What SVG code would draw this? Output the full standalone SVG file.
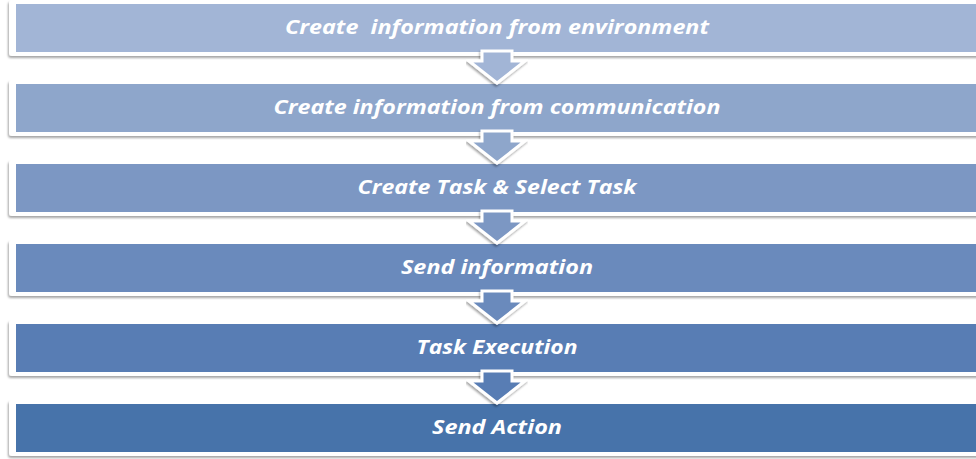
<svg xmlns="http://www.w3.org/2000/svg" width="976" height="459" viewBox="0 0 976 459">
  <style>
    .frame { fill: #ffffff; filter: url(#shadow); }
    .label { font-family: "Open Sans", "Liberation Sans", sans-serif; font-size: 19px; font-weight: bold; font-style: italic; fill: #ffffff; text-anchor: middle; }
    .arrow { stroke: #ffffff; stroke-width: 3; stroke-linejoin: miter; filter: url(#shadow); }
  </style>
  <defs>
    <filter id="shadow" x="-5%" y="-20%" width="110%" height="150%">
      <feDropShadow dx="-1" dy="2" stdDeviation="1.3" flood-color="#000000" flood-opacity="0.35"/>
    </filter>
  </defs>

  <rect width="976" height="459" fill="#ffffff"/>

  <!-- step boxes -->
  <g id="step1">
    <rect class="frame" x="9" y="0" width="980" height="56" rx="3"/>
    <rect x="16" y="4" width="970" height="48" fill="#A2B5D6"/>
    <text class="label" x="497" y="34" textLength="424" lengthAdjust="spacingAndGlyphs" xml:space="preserve">Create  information from environment</text>
  </g>
  <g id="step2">
    <rect class="frame" x="9" y="80" width="980" height="56" rx="3"/>
    <rect x="16" y="84" width="970" height="48" fill="#8EA6CB"/>
    <text class="label" x="497" y="114" textLength="447" lengthAdjust="spacingAndGlyphs">Create information from communication</text>
  </g>
  <g id="step3">
    <rect class="frame" x="9" y="160" width="980" height="56" rx="3"/>
    <rect x="16" y="164" width="970" height="48" fill="#7C97C3"/>
    <text class="label" x="497" y="194" textLength="279" lengthAdjust="spacingAndGlyphs">Create Task &amp; Select Task</text>
  </g>
  <g id="step4">
    <rect class="frame" x="9" y="240" width="980" height="56" rx="3"/>
    <rect x="16" y="244" width="970" height="48" fill="#6A8ABC"/>
    <text class="label" x="497" y="274" textLength="192" lengthAdjust="spacingAndGlyphs">Send information</text>
  </g>
  <g id="step5">
    <rect class="frame" x="9" y="320" width="980" height="56" rx="3"/>
    <rect x="16" y="324" width="970" height="48" fill="#587DB4"/>
    <text class="label" x="497" y="354" textLength="161" lengthAdjust="spacingAndGlyphs">Task Execution</text>
  </g>
  <g id="step6">
    <rect class="frame" x="9" y="400" width="980" height="56" rx="3"/>
    <rect x="16" y="404" width="970" height="48" fill="#4773AA"/>
    <text class="label" x="497" y="434" textLength="130" lengthAdjust="spacingAndGlyphs">Send Action</text>
  </g>

  <!-- down arrows between steps -->
  <g id="connectors">
    <polygon class="arrow" fill="#A2B5D6" points="482,51 512,51 512,61 525,61 497,83 469,61 482,61"/>
    <polygon class="arrow" fill="#8EA6CB" points="482,131 512,131 512,141 525,141 497,163 469,141 482,141"/>
    <polygon class="arrow" fill="#7C97C3" points="482,211 512,211 512,221 525,221 497,243 469,221 482,221"/>
    <polygon class="arrow" fill="#6A8ABC" points="482,291 512,291 512,301 525,301 497,323 469,301 482,301"/>
    <polygon class="arrow" fill="#587DB4" points="482,371 512,371 512,381 525,381 497,403 469,381 482,381"/>
  </g>
</svg>
